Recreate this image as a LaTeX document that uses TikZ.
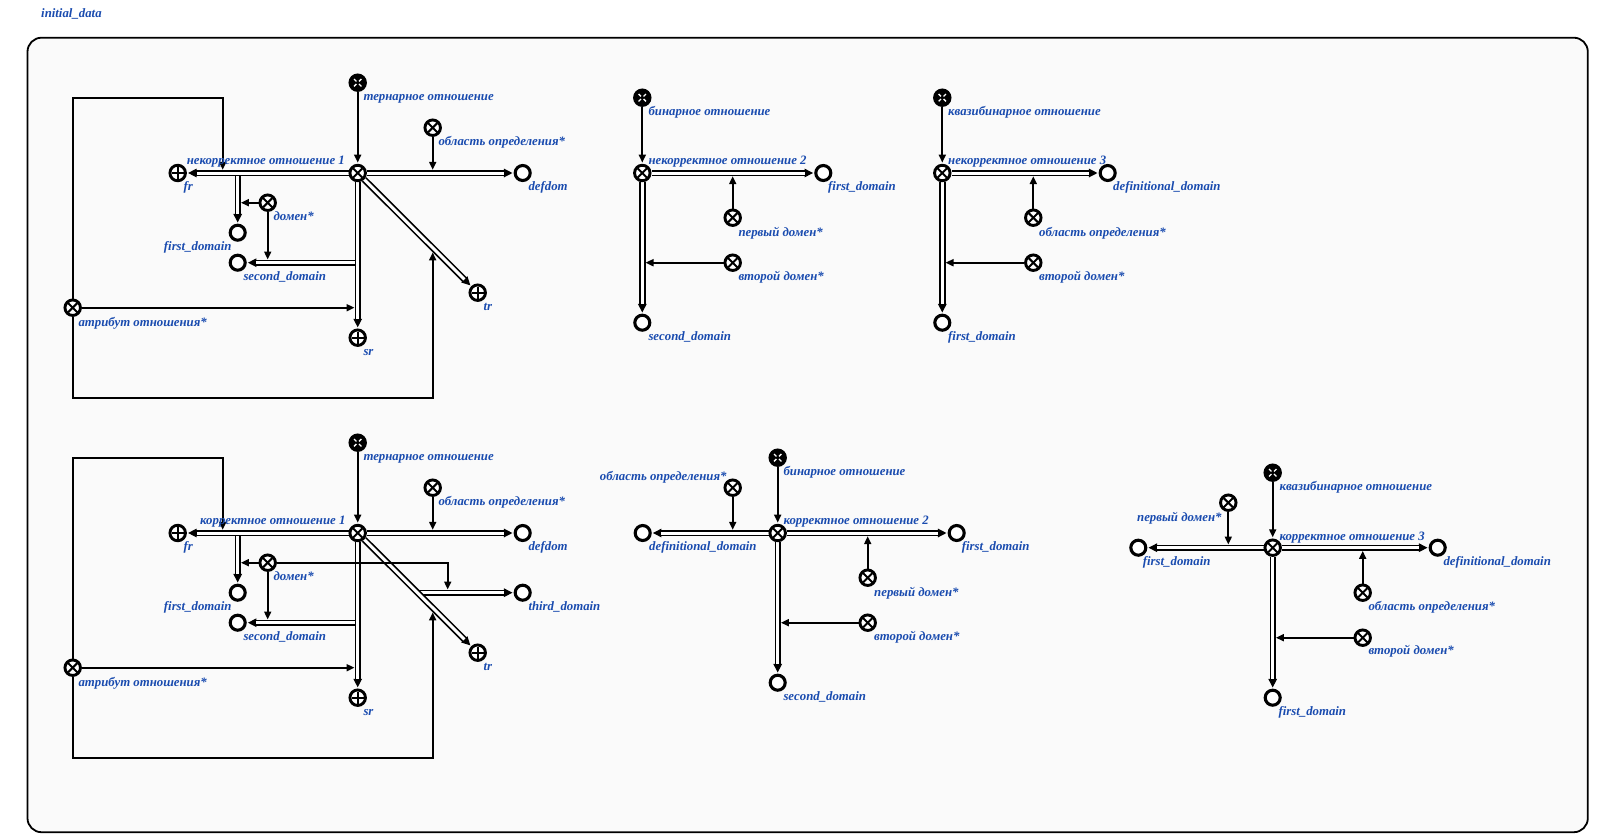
\documentclass[tikz,border=0pt]{standalone}
\usepackage{fontspec}
\setmainfont{Liberation Serif}
\usetikzlibrary{arrows.meta}
\definecolor{lblue}{RGB}{25,75,175}
\definecolor{panel}{RGB}{250,250,250}
\pgfdeclarelayer{back}
\pgfdeclarelayer{edges}
\pgfsetlayers{back,edges,main}
\newcommand\lblfont{\fontsize{12.8}{14}\selectfont\bfseries\itshape}
\begin{document}
\begin{tikzpicture}[x=1pt,y=-1pt,
  every node/.style={inner sep=0pt},
  basecircle/.style={circle, draw=black, line width=2.9pt, minimum size=15.5pt},
  relnode/.style={basecircle, fill=white, path picture={
     \draw[line width=2pt] ([shift={(-4.6pt,-4.6pt)}]path picture bounding box.center) -- ([shift={(4.6pt,4.6pt)}]path picture bounding box.center);
     \draw[line width=2pt] ([shift={(-4.6pt,4.6pt)}]path picture bounding box.center) -- ([shift={(4.6pt,-4.6pt)}]path picture bounding box.center);}},
  plusnode/.style={basecircle, fill=white, path picture={
     \draw[line width=2pt] ([shift={(-6pt,0pt)}]path picture bounding box.center) -- ([shift={(6pt,0pt)}]path picture bounding box.center);
     \draw[line width=2pt] ([shift={(0pt,-6pt)}]path picture bounding box.center) -- ([shift={(0pt,6pt)}]path picture bounding box.center);}},
  classnode/.style={basecircle, fill=black, path picture={
     \foreach \a in {45,135,225,315}
       \draw[white, line width=1.3pt] ([shift={(\a:1.8pt)}]path picture bounding box.center) -- ([shift={(\a:5.2pt)}]path picture bounding box.center);}},
  domnode/.style={circle, draw=black, fill=white, line width=3.1pt, minimum size=15pt},
  arc/.style={draw, line width=1.8pt, -{Triangle[length=8pt,width=7pt]}, shorten >=1.2pt},
  tap/.style={arc, shorten >=3.2pt},
  diagtap/.style={arc, shorten >=4.4pt},
  pair/.style={draw, line width=1.2pt, -{Triangle[length=8.5pt,width=8.5pt]}, shorten >=1.2pt,
     preaction={draw, -, line width=6.4pt, shorten >=8.8pt},
     postaction={draw, -, white, line width=3pt, shorten >=9.6pt}},
  lbl/.style={text=lblue, font=\lblfont, anchor=base west},
  lble/.style={text=lblue, font=\lblfont, anchor=base east}]

\useasboundingbox (0,0) rectangle (1599,839);

% outer frame of the structure
\begin{pgfonlayer}{back}
\fill[white] (0,0) rectangle (1599,839);
\draw[line width=1.8pt, fill=panel, rounded corners=14pt] (27.5,37.7) rectangle (1587.8,832.2);
\end{pgfonlayer}
\node[lbl] (title) at (41,17.5) {initial\_data};

% ---------------- ternary relation, incorrect ----------------
\node[classnode] (t1) at (357.7,82.7) {};
\node[relnode] (r1) at (357.7,173) {};
\node[plusnode] (fr1) at (177.7,173) {};
\node[domnode] (dd1) at (522.7,173) {};
\node[relnode] (od1) at (432.7,127.7) {};
\node[relnode] (dm1) at (267.7,202.7) {};
\node[domnode] (fd1) at (237.7,232.7) {};
\node[domnode] (sd1) at (237.7,262.7) {};
\node[plusnode] (tr1) at (477.7,292.7) {};
\node[plusnode] (sr1) at (357.7,337.7) {};
\node[relnode] (at1) at (72.7,307.7) {};
\coordinate (od1t) at (432.7,173);
\coordinate (fd1s) at (237.7,173);
\coordinate (dm1a) at (237.7,202.7);
\coordinate (sd1s) at (357.7,262.7);
\coordinate (dm1b) at (267.7,262.7);
\coordinate (at1a) at (357.7,307.7);
\coordinate (lp1) at (222.7,97.7);
\coordinate (fr1t) at (222.7,173);
\coordinate (lp2) at (432.7,397.7);
\coordinate (tr1t) at (432.7,248);

\node[lbl] at (363.3,100.7) {тернарное отношение};
\node[lble] at (345,164.2) {некорректное отношение 1};
\node[lbl] at (183.3,190.8) {fr};
\node[lbl] at (528.3,190.8) {defdom};
\node[lbl] at (438.3,145.5) {область определения*};
\node[lbl] at (273.3,220) {домен*};
\node[lble] at (231.7,250.5) {first\_domain};
\node[lbl] at (243.3,280.5) {second\_domain};
\node[lbl] at (483.3,310.5) {tr};
\node[lbl] at (363.3,355.7) {sr};
\node[lbl] at (78.3,326) {атрибут отношения*};

\begin{pgfonlayer}{edges}
\draw[pair] (fd1s) -- (fd1);
\draw[pair] (sd1s) -- (sd1);
\draw[pair] (r1) -- (fr1);
\draw[pair] (r1) -- (dd1);
\draw[pair] (r1) -- (sr1);
\draw[pair] (r1) -- (tr1);
\draw[arc] (t1) -- (r1);
\draw[tap] (od1) -- (od1t);
\draw[tap] (dm1) -- (dm1a);
\draw[tap] (dm1) -- (dm1b);
\draw[tap] (at1) -- (at1a);
\draw[tap] (at1) |- (lp1) -- (fr1t);
\draw[diagtap] (at1) |- (lp2) -- (tr1t);
\end{pgfonlayer}

% ---------------- ternary relation, correct ----------------
\node[classnode] (t2) at (357.7,442.7) {};
\node[relnode] (r2) at (357.7,533) {};
\node[plusnode] (fr2) at (177.7,533) {};
\node[domnode] (dd2) at (522.7,533) {};
\node[relnode] (od2) at (432.7,487.7) {};
\node[relnode] (dm2) at (267.7,562.7) {};
\node[domnode] (fd2) at (237.7,592.7) {};
\node[domnode] (sd2) at (237.7,622.7) {};
\node[domnode] (td2) at (522.7,592.7) {};
\node[plusnode] (tr2) at (477.7,652.7) {};
\node[plusnode] (sr2) at (357.7,697.7) {};
\node[relnode] (at2) at (72.7,667.7) {};
\coordinate (od2t) at (432.7,533);
\coordinate (fd2s) at (237.7,533);
\coordinate (dm2a) at (237.7,562.7);
\coordinate (sd2s) at (357.7,622.7);
\coordinate (dm2b) at (267.7,622.7);
\coordinate (td2s) at (417.4,592.7);
\coordinate (dm2c) at (447.7,562.7);
\coordinate (dm2ct) at (447.7,592.7);
\coordinate (at2a) at (357.7,667.7);
\coordinate (lp3) at (222.7,457.7);
\coordinate (fr2t) at (222.7,533);
\coordinate (lp4) at (432.7,757.7);
\coordinate (tr2t) at (432.7,608);

\node[lbl] at (363.3,460.7) {тернарное отношение};
\node[lble] at (345.7,524.2) {корректное отношение 1};
\node[lbl] at (183.3,550.8) {fr};
\node[lbl] at (528.3,550.8) {defdom};
\node[lbl] at (438.3,505.5) {область определения*};
\node[lbl] at (273.3,580) {домен*};
\node[lble] at (231.7,610.5) {first\_domain};
\node[lbl] at (243.3,640.5) {second\_domain};
\node[lbl] at (528.3,610.5) {third\_domain};
\node[lbl] at (483.3,670.5) {tr};
\node[lbl] at (363.3,715.7) {sr};
\node[lbl] at (78.3,686) {атрибут отношения*};

\begin{pgfonlayer}{edges}
\draw[pair] (fd2s) -- (fd2);
\draw[pair] (sd2s) -- (sd2);
\draw[pair] (td2s) -- (td2);
\draw[pair] (r2) -- (fr2);
\draw[pair] (r2) -- (dd2);
\draw[pair] (r2) -- (sr2);
\draw[pair] (r2) -- (tr2);
\draw[arc] (t2) -- (r2);
\draw[tap] (od2) -- (od2t);
\draw[tap] (dm2) -- (dm2a);
\draw[tap] (dm2) -- (dm2b);
\draw[tap] (dm2) -- (dm2c) -- (dm2ct);
\draw[tap] (at2) -- (at2a);
\draw[tap] (at2) |- (lp3) -- (fr2t);
\draw[diagtap] (at2) |- (lp4) -- (tr2t);
\end{pgfonlayer}

% ---------------- binary relation, incorrect ----------------
\node[classnode] (b3) at (642.3,97.7) {};
\node[relnode] (r3) at (642.3,173) {};
\node[domnode] (fd3) at (823.3,173) {};
\node[relnode] (pd3) at (732.7,217.7) {};
\node[relnode] (vd3) at (732.7,262.7) {};
\node[domnode] (sd3) at (642.3,322.7) {};
\coordinate (pd3t) at (732.7,173);
\coordinate (vd3t) at (642.3,262.7);

\node[lbl] at (648.3,115.8) {бинарное отношение};
\node[lbl] at (648.3,164.2) {некорректное отношение 2};
\node[lbl] at (828,190.8) {first\_domain};
\node[lbl] at (738.3,236.2) {первый домен*};
\node[lbl] at (738.3,280.8) {второй домен*};
\node[lbl] at (648.3,340.2) {second\_domain};

\begin{pgfonlayer}{edges}
\draw[pair] (r3) -- (fd3);
\draw[pair] (r3) -- (sd3);
\draw[arc] (b3) -- (r3);
\draw[tap] (pd3) -- (pd3t);
\draw[tap] (vd3) -- (vd3t);
\end{pgfonlayer}

% ---------------- quasi-binary relation, incorrect ----------------
\node[classnode] (k4) at (942.3,97.7) {};
\node[relnode] (r4) at (942.3,173) {};
\node[domnode] (dd4) at (1107.7,173) {};
\node[relnode] (od4) at (1033.3,217.7) {};
\node[relnode] (vd4) at (1033.3,262.7) {};
\node[domnode] (fd4) at (942.3,322.7) {};
\coordinate (od4t) at (1033.3,173);
\coordinate (vd4t) at (942.3,262.7);

\node[lbl] at (948,115.8) {квазибинарное отношение};
\node[lbl] at (948,164.2) {некорректное отношение 3};
\node[lbl] at (1113,190.8) {definitional\_domain};
\node[lbl] at (1039,236.2) {область определения*};
\node[lbl] at (1039,280.8) {второй домен*};
\node[lbl] at (948,340.2) {first\_domain};

\begin{pgfonlayer}{edges}
\draw[pair] (r4) -- (dd4);
\draw[pair] (r4) -- (fd4);
\draw[arc] (k4) -- (r4);
\draw[tap] (od4) -- (od4t);
\draw[tap] (vd4) -- (vd4t);
\end{pgfonlayer}

% ---------------- binary relation, correct ----------------
\node[classnode] (b5) at (777.7,457.7) {};
\node[relnode] (r5) at (777.7,533) {};
\node[domnode] (dd5) at (642.7,533) {};
\node[relnode] (od5) at (732.7,487.7) {};
\node[domnode] (fd5) at (956.7,533) {};
\node[relnode] (pd5) at (867.7,577.7) {};
\node[relnode] (vd5) at (867.7,622.7) {};
\node[domnode] (sd5) at (777.7,682.7) {};
\coordinate (od5t) at (732.7,533);
\coordinate (pd5t) at (867.7,533);
\coordinate (vd5t) at (777.7,622.7);

\node[lble] at (726.7,480.2) {область определения*};
\node[lbl] at (783.3,475.8) {бинарное отношение};
\node[lbl] at (783.3,524.2) {корректное отношение 2};
\node[lbl] at (649,550.8) {definitional\_domain};
\node[lbl] at (961.7,550.8) {first\_domain};
\node[lbl] at (874,596.2) {первый домен*};
\node[lbl] at (874,640.8) {второй домен*};
\node[lbl] at (783.3,700.2) {second\_domain};

\begin{pgfonlayer}{edges}
\draw[pair] (r5) -- (dd5);
\draw[pair] (r5) -- (fd5);
\draw[pair] (r5) -- (sd5);
\draw[arc] (b5) -- (r5);
\draw[tap] (od5) -- (od5t);
\draw[tap] (pd5) -- (pd5t);
\draw[tap] (vd5) -- (vd5t);
\end{pgfonlayer}

% ---------------- quasi-binary relation, correct ----------------
\node[classnode] (k6) at (1272.7,472.7) {};
\node[relnode] (r6) at (1272.7,547.7) {};
\node[domnode] (fa6) at (1138.3,547.7) {};
\node[relnode] (pd6) at (1228.3,502.7) {};
\node[domnode] (dd6) at (1437.7,547.7) {};
\node[relnode] (od6) at (1362.7,592.7) {};
\node[relnode] (vd6) at (1362.7,637.7) {};
\node[domnode] (fb6) at (1272.7,697.7) {};
\coordinate (pd6t) at (1228.3,547.7);
\coordinate (od6t) at (1362.7,547.7);
\coordinate (vd6t) at (1272.7,637.7);

\node[lbl] at (1279.3,490.2) {квазибинарное отношение};
\node[lble] at (1221.7,521.2) {первый домен*};
\node[lbl] at (1279.3,540.2) {корректное отношение 3};
\node[lbl] at (1142.7,565.2) {first\_domain};
\node[lbl] at (1443.3,565.2) {definitional\_domain};
\node[lbl] at (1368.3,610.2) {область определения*};
\node[lbl] at (1368.3,654.5) {второй домен*};
\node[lbl] at (1278.3,715.2) {first\_domain};

\begin{pgfonlayer}{edges}
\draw[pair] (r6) -- (fa6);
\draw[pair] (r6) -- (dd6);
\draw[pair] (r6) -- (fb6);
\draw[arc] (k6) -- (r6);
\draw[tap] (pd6) -- (pd6t);
\draw[tap] (od6) -- (od6t);
\draw[tap] (vd6) -- (vd6t);
\end{pgfonlayer}

\end{tikzpicture}
\end{document}
